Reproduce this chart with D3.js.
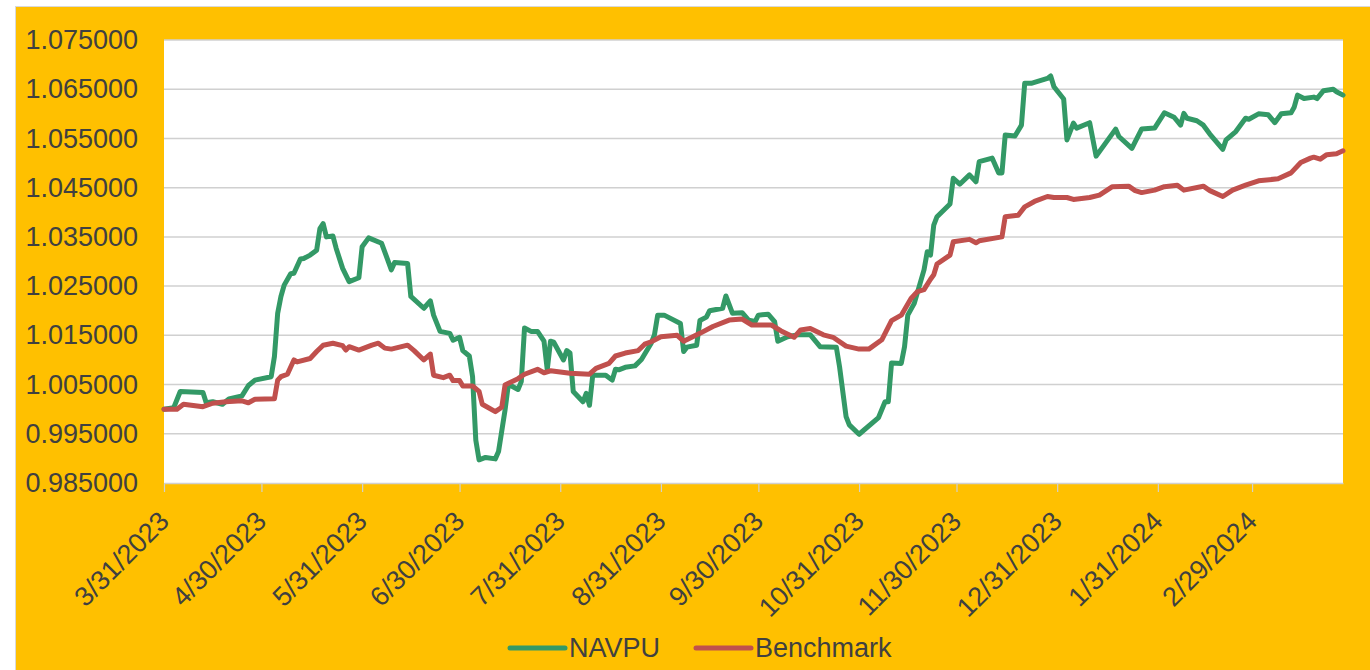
<!DOCTYPE html>
<meta charset="utf-8">
<head>
<!-- Load d3.js -->
<script src="https://d3js.org/d3.v7.min.js"></script>
<style>
  body { margin: 0; background: #ffffff; }
  text { font-family: "Liberation Sans", Arial, sans-serif; fill: #404040; }
</style>
</head>
<body>
<svg id="chart" width="1370" height="670"></svg>

<script>

// ---- data ----
var navDates = [
  "2023-03-31","2023-04-03","2023-04-05","2023-04-12","2023-04-13","2023-04-15","2023-04-18","2023-04-20",
  "2023-04-24","2023-04-26","2023-04-28","2023-05-03","2023-05-04","2023-05-05","2023-05-06","2023-05-07",
  "2023-05-09","2023-05-10","2023-05-12","2023-05-13","2023-05-15","2023-05-17","2023-05-18","2023-05-19",
  "2023-05-20","2023-05-22","2023-05-23","2023-05-25","2023-05-27","2023-05-30","2023-05-31","2023-06-02",
  "2023-06-06","2023-06-09","2023-06-10","2023-06-14","2023-06-15","2023-06-19","2023-06-21","2023-06-22",
  "2023-06-24","2023-06-27","2023-06-28","2023-06-30","2023-07-01","2023-07-03","2023-07-04","2023-07-05",
  "2023-07-06","2023-07-08","2023-07-11","2023-07-12","2023-07-14","2023-07-15","2023-07-16","2023-07-18",
  "2023-07-19","2023-07-20","2023-07-22","2023-07-24","2023-07-26","2023-07-27","2023-07-28","2023-07-29",
  "2023-08-01","2023-08-02","2023-08-03","2023-08-04","2023-08-07","2023-08-08","2023-08-09","2023-08-10",
  "2023-08-14","2023-08-16","2023-08-17","2023-08-18","2023-08-20","2023-08-23","2023-08-25","2023-08-28",
  "2023-08-29","2023-08-30","2023-09-01","2023-09-06","2023-09-07","2023-09-08","2023-09-11","2023-09-12",
  "2023-09-14","2023-09-15","2023-09-19","2023-09-20","2023-09-22","2023-09-25","2023-09-27","2023-09-29",
  "2023-09-30","2023-10-03","2023-10-05","2023-10-06","2023-10-09","2023-10-12","2023-10-16","2023-10-19",
  "2023-10-24","2023-10-25","2023-10-27","2023-10-28","2023-10-31","2023-11-06","2023-11-08","2023-11-09",
  "2023-11-10","2023-11-13","2023-11-14","2023-11-15","2023-11-17","2023-11-20","2023-11-21","2023-11-22",
  "2023-11-23","2023-11-24","2023-11-28","2023-11-29","2023-12-01","2023-12-04","2023-12-06","2023-12-07",
  "2023-12-11","2023-12-13","2023-12-14","2023-12-15","2023-12-18","2023-12-20","2023-12-21","2023-12-23",
  "2023-12-28","2023-12-29","2023-12-30","2024-01-02","2024-01-03","2024-01-05","2024-01-06","2024-01-10",
  "2024-01-12","2024-01-18","2024-01-19","2024-01-23","2024-01-24","2024-01-26","2024-01-30","2024-02-02",
  "2024-02-05","2024-02-07","2024-02-08","2024-02-09","2024-02-12","2024-02-14","2024-02-16","2024-02-20",
  "2024-02-21","2024-02-24","2024-02-27","2024-02-28","2024-03-02","2024-03-05","2024-03-07","2024-03-09",
  "2024-03-12","2024-03-13","2024-03-14","2024-03-16","2024-03-19","2024-03-20","2024-03-22","2024-03-25",
  "2024-03-26","2024-03-28"
];
var navValues = [
  1.0000,1.0003,1.0036,1.0034,1.0013,1.0015,1.0010,1.0021,
  1.0027,1.0048,1.0059,1.0066,1.0107,1.0195,1.0229,1.0252,
  1.0275,1.0276,1.0305,1.0306,1.0313,1.0323,1.0367,1.0377,
  1.0350,1.0352,1.0327,1.0286,1.0259,1.0267,1.0330,1.0348,
  1.0337,1.0283,1.0298,1.0296,1.0229,1.0205,1.0220,1.0191,
  1.0158,1.0154,1.0140,1.0146,1.0119,1.0108,1.0066,0.9937,
  0.9897,0.9902,0.9899,0.9914,0.9998,1.0049,1.0047,1.0040,
  1.0056,1.0165,1.0158,1.0158,1.0138,1.0080,1.0138,1.0136,
  1.0100,1.0119,1.0114,1.0036,1.0015,1.0032,1.0008,1.0069,
  1.0069,1.0059,1.0081,1.0080,1.0085,1.0088,1.0101,1.0134,
  1.0151,1.0191,1.0191,1.0174,1.0117,1.0126,1.0130,1.0180,
  1.0187,1.0200,1.0205,1.0230,1.0195,1.0196,1.0181,1.0178,
  1.0191,1.0193,1.0178,1.0138,1.0147,1.0151,1.0151,1.0127,
  1.0126,1.0086,0.9985,0.9968,0.9949,0.9983,1.0015,1.0015,
  1.0094,1.0093,1.0127,1.0191,1.0215,1.0283,1.0320,1.0313,
  1.0374,1.0391,1.0417,1.0469,1.0457,1.0476,1.0462,1.0503,
  1.0510,1.0480,1.0480,1.0557,1.0555,1.0577,1.0662,1.0662,
  1.0672,1.0677,1.0655,1.0630,1.0547,1.0581,1.0571,1.0582,
  1.0514,1.0569,1.0554,1.0530,1.0543,1.0569,1.0571,1.0602,
  1.0593,1.0577,1.0601,1.0591,1.0586,1.0577,1.0559,1.0528,
  1.0547,1.0564,1.0591,1.0589,1.0600,1.0598,1.0582,1.0600,
  1.0602,1.0614,1.0638,1.0631,1.0634,1.0631,1.0647,1.0650,
  1.0645,1.0638
];

var benchDates = [
  "2023-03-31","2023-04-04","2023-04-06","2023-04-12","2023-04-15","2023-04-19","2023-04-24","2023-04-26",
  "2023-04-28","2023-05-04","2023-05-05","2023-05-06","2023-05-08","2023-05-10","2023-05-11","2023-05-15",
  "2023-05-17","2023-05-19","2023-05-22","2023-05-25","2023-05-26","2023-05-27","2023-05-30","2023-06-03",
  "2023-06-05","2023-06-07","2023-06-09","2023-06-14","2023-06-16","2023-06-19","2023-06-21","2023-06-22",
  "2023-06-25","2023-06-27","2023-06-28","2023-06-30","2023-07-01","2023-07-04","2023-07-06","2023-07-07",
  "2023-07-11","2023-07-13","2023-07-14","2023-07-18","2023-07-20","2023-07-24","2023-07-26","2023-07-28",
  "2023-08-03","2023-08-09","2023-08-11","2023-08-15","2023-08-17","2023-08-20","2023-08-24","2023-08-26",
  "2023-08-28","2023-08-31","2023-09-05","2023-09-07","2023-09-12","2023-09-16","2023-09-21","2023-09-25",
  "2023-09-28","2023-10-04","2023-10-07","2023-10-11","2023-10-13","2023-10-16","2023-10-20","2023-10-23",
  "2023-10-27","2023-10-31","2023-11-03","2023-11-07","2023-11-10","2023-11-13","2023-11-16","2023-11-18",
  "2023-11-20","2023-11-22","2023-11-23","2023-11-24","2023-11-28","2023-11-29","2023-12-04","2023-12-06",
  "2023-12-07","2023-12-14","2023-12-15","2023-12-19","2023-12-21","2023-12-24","2023-12-28","2023-12-30",
  "2024-01-03","2024-01-05","2024-01-10","2024-01-13","2024-01-17","2024-01-22","2024-01-24","2024-01-26",
  "2024-01-30","2024-02-02","2024-02-06","2024-02-08","2024-02-14","2024-02-16","2024-02-20","2024-02-23",
  "2024-02-27","2024-03-02","2024-03-08","2024-03-12","2024-03-15","2024-03-18","2024-03-19","2024-03-21",
  "2024-03-23","2024-03-26","2024-03-28"
];
var benchValues = [
  1.0000,1.0000,1.0010,1.0005,1.0012,1.0015,1.0017,1.0013,
  1.0020,1.0021,1.0059,1.0066,1.0071,1.0100,1.0096,1.0103,
  1.0117,1.0130,1.0134,1.0129,1.0120,1.0127,1.0120,1.0130,
  1.0134,1.0124,1.0122,1.0130,1.0119,1.0100,1.0112,1.0069,
  1.0064,1.0069,1.0058,1.0058,1.0047,1.0047,1.0036,1.0010,
  0.9995,1.0004,1.0049,1.0062,1.0071,1.0081,1.0074,1.0078,
  1.0073,1.0071,1.0083,1.0093,1.0108,1.0114,1.0119,1.0132,
  1.0137,1.0147,1.0150,1.0138,1.0154,1.0168,1.0181,1.0183,
  1.0171,1.0171,1.0159,1.0146,1.0161,1.0164,1.0151,1.0146,
  1.0128,1.0122,1.0122,1.0141,1.0180,1.0191,1.0225,1.0239,
  1.0243,1.0264,1.0273,1.0295,1.0313,1.0340,1.0345,1.0338,
  1.0342,1.0350,1.0391,1.0394,1.0411,1.0422,1.0432,1.0430,
  1.0430,1.0426,1.0430,1.0435,1.0452,1.0453,1.0444,1.0440,
  1.0445,1.0452,1.0455,1.0445,1.0453,1.0444,1.0432,1.0445,
  1.0455,1.0464,1.0468,1.0480,1.0501,1.0510,1.0512,1.0508,
  1.0517,1.0519,1.0525
];

// axis ticks
var xTickDates = ["2023-03-31","2023-04-30","2023-05-31","2023-06-30","2023-07-31","2023-08-31",
                  "2023-09-30","2023-10-31","2023-11-30","2023-12-31","2024-01-31","2024-02-29"];
var yTicks = [0.985,0.995,1.005,1.015,1.025,1.035,1.045,1.055,1.065,1.075];

var seriesNames = ["NAVPU","Benchmark"];
var seriesColors = ["#339966","#C0504D"];

// ---- layout ----
var svg = d3.select("#chart"),
    width = +svg.attr("width"),
    height = +svg.attr("height");

var plot = {left: 164, right: 1343, top: 40, bottom: 483};
var parseDate = d3.timeParse("%Y-%m-%d");

// orange chart area
svg.append("rect")
    .attr("x", 15.5).attr("y", 6.5)
    .attr("width", width).attr("height", height)
    .attr("fill", "#FFC000")
    .attr("stroke", "#D9D9D9")
    .attr("stroke-width", 1);

// white plot area
svg.append("rect")
    .attr("x", plot.left).attr("y", plot.top)
    .attr("width", plot.right - plot.left)
    .attr("height", plot.bottom - plot.top)
    .attr("fill", "#ffffff");

var x = d3.scaleTime()
    .domain([parseDate("2023-03-31"), parseDate("2024-03-28")])
    .range([plot.left, plot.right]);

var y = d3.scaleLinear()
    .domain([0.985, 1.075])
    .range([plot.bottom, plot.top]);

// gridlines
svg.append("g")
    .selectAll("line")
    .data(yTicks.slice(1))
    .enter()
    .append("line")
    .attr("x1", plot.left).attr("x2", plot.right)
    .attr("y1", d => y(d)).attr("y2", d => y(d))
    .attr("stroke", "#D0D0D0")
    .attr("stroke-width", 1.5);

// y axis labels
var yAxis = d3.axisLeft(y)
    .tickValues(yTicks)
    .tickFormat(d3.format(".6f"))
    .tickSize(0)
    .tickPadding(26);

svg.append("g")
    .attr("transform", "translate(" + plot.left + ",0)")
    .call(yAxis)
    .call(g => g.select(".domain").remove())
    .selectAll("text")
    .attr("font-size", 27)
    .attr("font-family", "'Liberation Sans', Arial, sans-serif")
    .attr("fill", "#404040");

// x axis
var xAxis = d3.axisBottom(x)
    .tickValues(xTickDates.map(parseDate))
    .tickFormat(d3.timeFormat("%-m/%-d/%Y"))
    .tickSize(9)
    .tickSizeOuter(0);

var gx = svg.append("g")
    .attr("transform", "translate(0," + plot.bottom + ")")
    .call(xAxis);

gx.select(".domain").attr("stroke", "#D0D0D0").attr("stroke-width", 1.5);
gx.selectAll(".tick line").attr("stroke", "#D0D0D0").attr("stroke-width", 1.2);
gx.selectAll(".tick text")
    .attr("font-size", 27)
    .attr("font-family", "'Liberation Sans', Arial, sans-serif")
    .attr("fill", "#404040")
    .attr("text-anchor", "end")
    .attr("dy", null)
    .attr("y", null)
    .attr("transform", "translate(6,40) rotate(-45)");

// lines
var line = d3.line()
    .x(d => x(d[0]))
    .y(d => y(d[1]));

var navData = navDates.map((d, i) => [parseDate(d), navValues[i]]);
var benchData = benchDates.map((d, i) => [parseDate(d), benchValues[i]]);

[navData, benchData].forEach(function(data, i) {
  svg.append("path")
      .datum(data)
      .attr("fill", "none")
      .attr("stroke", seriesColors[i])
      .attr("stroke-width", 5)
      .attr("stroke-linejoin", "round")
      .attr("stroke-linecap", "round")
      .attr("d", line);
});

// legend
var legendX = [510, 696];
var legend = svg.append("g");
seriesNames.forEach(function(name, i) {
  legend.append("line")
      .attr("x1", legendX[i]).attr("x2", legendX[i] + 55)
      .attr("y1", 648).attr("y2", 648)
      .attr("stroke", seriesColors[i])
      .attr("stroke-width", 5)
      .attr("stroke-linecap", "round");
  legend.append("text")
      .attr("x", legendX[i] + 59)
      .attr("y", 657)
      .attr("font-size", 27)
      .text(name);
});

</script>
</body>
</html>
